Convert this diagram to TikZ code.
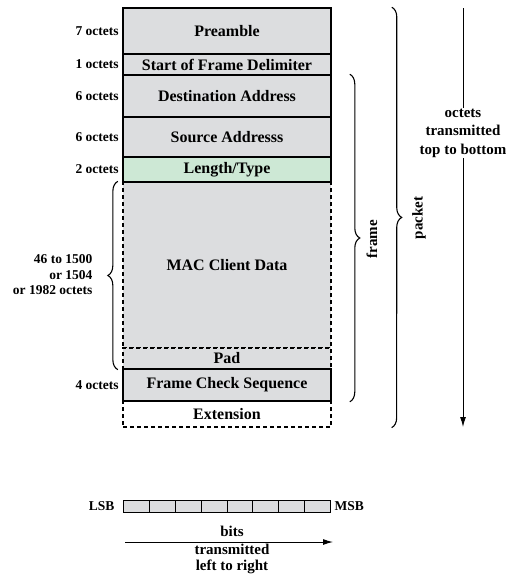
\documentclass[tikz,border=0pt]{standalone}
\usepackage{fontspec}
\setmainfont{Liberation Serif}
\usetikzlibrary{decorations.pathreplacing,arrows.meta}

\definecolor{fieldgray}{RGB}{220,221,223}
\definecolor{fieldgreen}{RGB}{205,232,213}

\tikzset{
  field/.style={rectangle, draw, line width=1.6pt, fill=fieldgray, minimum width=208pt,
    inner sep=0pt, label distance=3pt, font=\fontsize{16}{19}\selectfont\bfseries},
  dfield/.style={field, line width=1.3pt, dash pattern=on 4pt off 3pt},
  octet/.style={font=\fontsize{13.5}{15.5}\selectfont\bfseries},
  note/.style={font=\fontsize{15}{18.5}\selectfont\bfseries, align=center},
  brace/.style={decorate, decoration={brace, amplitude=10pt}, line width=1.1pt},
  bitcell/.style={rectangle, draw, line width=1pt, fill=fieldgray, minimum width=25.9pt,
    minimum height=12pt, inner sep=0pt},
  flow/.style={line width=1pt, -{Latex[length=10pt,width=6pt]}}
}

\begin{document}
\begin{tikzpicture}[x=1pt, y=-1pt]
            \useasboundingbox (0,0) rectangle (512,579);

            % fields with dashed borders first
            \node[dfield, minimum height=166pt] (mac) at (227,265) {MAC Client Data};
            \node[dfield, minimum height=21pt] (pad) at (227,358.5) {Pad};
            \node[dfield, fill=white, minimum height=26pt] (ext) at (227,414) {Extension};

            % fixed fields
            \node[field, minimum height=46pt, label={[octet]left:7 octets}] (pre) at (227,31) {Preamble};
            \node[field, minimum height=21pt, label={[octet]left:1 octets}] (sfd) at (227,64.5) {Start of Frame Delimiter};
            \node[field, minimum height=42pt, label={[octet]left:6 octets}] (dst) at (227,96) {Destination Address};
            \node[field, minimum height=40pt, label={[octet]left:6 octets}] (src) at (227,137) {Source Addresss};
            \node[field, fill=fieldgreen, minimum height=25pt, label={[octet]left:2 octets}] (len) at (227,169.5) {Length/Type};
            \node[field, minimum height=32pt, label={[octet]left:4 octets}] (fcs) at (227,385) {Frame Check Sequence};

            % braces
            \draw[brace] ([xshift=-4.5pt]pad.south west) -- ([xshift=-4.5pt]mac.north west);
            \node[octet, align=right, anchor=east] (datalen) at (96,275) {46 to 1500\\or 1504\\or 1982 octets};

            \draw[brace] ([xshift=18pt]dst.north east) -- ([xshift=18pt]fcs.south east);
            \node[note, rotate=90] (framelbl) at (372,239) {frame};

            \draw[brace] ([xshift=60pt]pre.north east) -- ([xshift=60pt]ext.south east);
            \node[note, rotate=90] (packetlbl) at (419,218) {packet};

            % octet order
            \coordinate (otop) at (463,8);
            \coordinate (obot) at (463,427);
            \draw[flow] (otop) -- (obot);
            \node[note, fill=white, inner sep=1pt] (octord) at (463,133) {octets\\transmitted\\top to bottom};

            % bit order
            \foreach \i in {0,...,7}
                \node[bitcell] (b\i) at ({136.4+25.9*\i},506) {};
            \node[octet, anchor=east] (lsb) at ([xshift=-5pt]b0.west) {LSB};
            \node[octet, anchor=west] (msb) at (b7.east) {MSB};

            \coordinate (bstart) at (125,542);
            \coordinate (bend) at (333,542);
            \draw[flow] (bstart) -- (bend);
            \node[note] (bitslbl) at (232,531) {bits};
            \node[note, font=\fontsize{15}{16}\selectfont\bfseries] (bitord) at (232,559) {transmitted\\left to right};

        \end{tikzpicture}
\end{document}
